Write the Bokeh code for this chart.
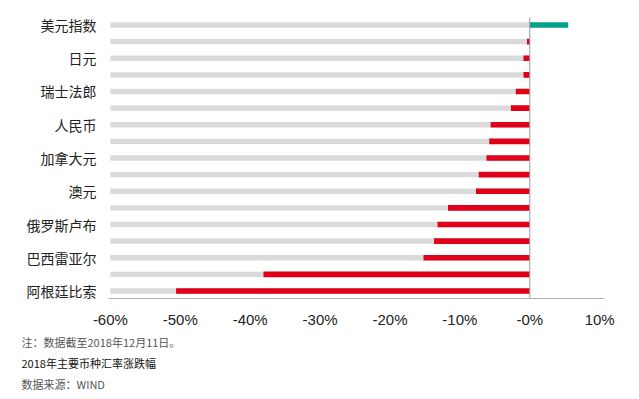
from bokeh.plotting import figure
from bokeh.models import Range1d, FixedTicker, Title, Span, ColumnDataSource
from bokeh.embed import file_html
from bokeh.resources import INLINE

# ---- data ----
row_labels = ["美元指数", "", "日元", "", "瑞士法郎", "", "人民币", "", "加拿大元", "",
              "澳元", "", "俄罗斯卢布", "", "巴西雷亚尔", "", "阿根廷比索"]
changes = [5.5, -0.4, -0.9, -0.9, -2.0, -2.7, -5.6, -5.8, -6.2, -7.3,
           -7.7, -11.7, -13.2, -13.7, -15.2, -38.1, -50.6]
background_value = -60
x_ticks = [-60, -50, -40, -30, -20, -10, 0, 10]
x_tick_labels = ["-60%", "-50%", "-40%", "-30%", "-20%", "-10%", "-0%", "10%"]
note_text = "注：数据截至2018年12月11日。"
title_text = "2018年主要币种汇率涨跌幅"
source_text = "数据来源：WIND"

RED = "#e1001a"
TEAL = "#00a28c"
GRAY = "#dadada"

n = len(changes)
ys = list(range(n))
neg = [v if v < 0 else 0 for v in changes]
pos = [v if v > 0 else 0 for v in changes]

p = figure(width=631, height=393, output_backend="svg", toolbar_location=None,
           x_range=Range1d(-60.27, 10.69), y_range=Range1d(n - 1 + 0.45, -0.45),
           min_border_left=108, min_border_right=27, min_border_top=17,
           min_border_bottom=10)
p.outline_line_color = None
p.xgrid.visible = False
p.ygrid.visible = False
p.background_fill_color = "white"
p.border_fill_color = "white"

src = ColumnDataSource(dict(y=ys, bg=[background_value] * n, neg=neg, pos=pos,
                            zero=[0] * n))
p.hbar(y="y", left="bg", right="zero", height=0.32, source=src,
       fill_color=GRAY, line_color=None)
p.hbar(y="y", left="neg", right="zero", height=0.34, source=src,
       fill_color=RED, line_color=None)
p.hbar(y="y", left="zero", right="pos", height=0.34, source=src,
       fill_color=TEAL, line_color=None)

p.add_layout(Span(location=0, dimension="height", line_color="#9a9a9a", line_width=1))

# x axis
p.xaxis.ticker = FixedTicker(ticks=x_ticks)
p.xaxis.major_label_overrides = {t: l for t, l in zip(x_ticks, x_tick_labels)}
p.xaxis.major_tick_line_color = None
p.xaxis.minor_tick_line_color = None
p.xaxis.major_tick_out = 0
p.xaxis.major_tick_in = 0
p.xaxis.axis_line_color = "#b0b0b0"
p.xaxis.major_label_text_font = "Liberation Sans"
p.xaxis.major_label_text_font_size = "15px"
p.xaxis.major_label_text_color = "#222222"
p.xaxis.major_label_standoff = 12

# y axis
p.yaxis.ticker = FixedTicker(ticks=[i for i in ys if row_labels[i]])
p.yaxis.major_label_overrides = {i: row_labels[i] for i in ys if row_labels[i]}
p.yaxis.axis_line_color = None
p.yaxis.major_tick_line_color = None
p.yaxis.minor_tick_line_color = None
p.yaxis.major_tick_out = 0
p.yaxis.major_tick_in = 0
p.yaxis.major_label_text_font = "Noto Sans CJK SC"
p.yaxis.major_label_text_font_size = "14px"
p.yaxis.major_label_text_color = "#222222"
p.yaxis.major_label_standoff = 12

# footer texts
for txt, col in [(note_text, "#555555"), (title_text, "#111111"), (source_text, "#555555")]:
    p.add_layout(Title(text=txt, align="left", offset=-87, standoff=3,
                       text_font="Noto Sans CJK SC", text_font_size="11px",
                       text_font_style="normal", text_color=col), "below")

open("out.html", "w").write(file_html(p, INLINE))
